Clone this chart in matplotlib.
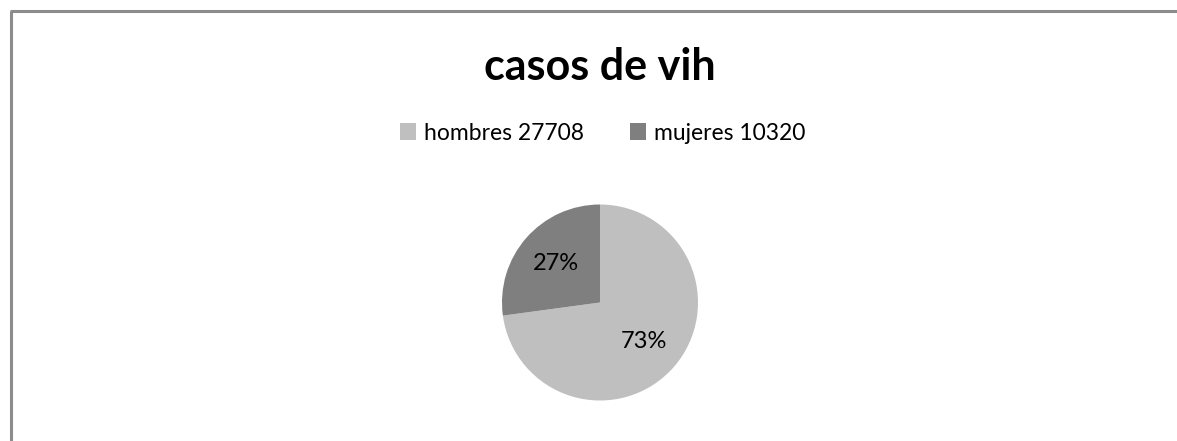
import matplotlib

matplotlib.use("Agg")

import matplotlib.pyplot as plt
from matplotlib.lines import Line2D
from matplotlib.patches import Patch


W, H = 1177, 441

labels = ["hombres 27708", "mujeres 10320"]
values = [27708, 10320]
colors = ["#BFBFBF", "#7F7F7F"]
title = "casos de vih"

plt.rcParams["font.family"] = ["Lato", "DejaVu Sans"]

fig = plt.figure(figsize=(W / 100, H / 100), dpi=100)
fig.patch.set_facecolor("white")

# chart border (only top and left edges are inside the picture)
border = "#8C8C8C"
fig.add_artist(Line2D([10.5 / W, 10.5 / W], [0, 1 - 10.5 / H], color=border, lw=2.2,
                      transform=fig.transFigure, solid_capstyle="butt"))
fig.add_artist(Line2D([9.5 / W, 1], [1 - 10.5 / H, 1 - 10.5 / H], color=border, lw=2.2,
                      transform=fig.transFigure, solid_capstyle="butt"))

# pie: centre (600, 302.5) px, radius 98 px
cx, cy, r = 600, 302.5, 98
ax = fig.add_axes([(cx - r) / W, (H - cy - r) / H, 2 * r / W, 2 * r / H])
wedges, _, autotexts = ax.pie(
    values,
    colors=colors,
    startangle=90,
    counterclock=False,
    autopct=lambda p: f"{p:.0f}%",
    pctdistance=0.6,
    radius=1,
    wedgeprops={"linewidth": 0},
    textprops={"fontsize": 17, "color": "black"},
)
ax.set_xlim(-1, 1)
ax.set_ylim(-1, 1)
ax.axis("off")

fig.text(cx / W, 1 - 67 / H, title, ha="center", va="center",
         fontsize=31, fontweight="bold")

handles = [Patch(facecolor=c, edgecolor="none") for c in colors]
fig.legend(handles, labels, loc="center", bbox_to_anchor=(603 / W, 1 - 133 / H),
           ncol=2, frameon=False, fontsize=16.5, handlelength=0.7, handleheight=0.7,
           handletextpad=0.35, columnspacing=2.0)

fig.savefig("out.png", dpi=100, facecolor="white")
